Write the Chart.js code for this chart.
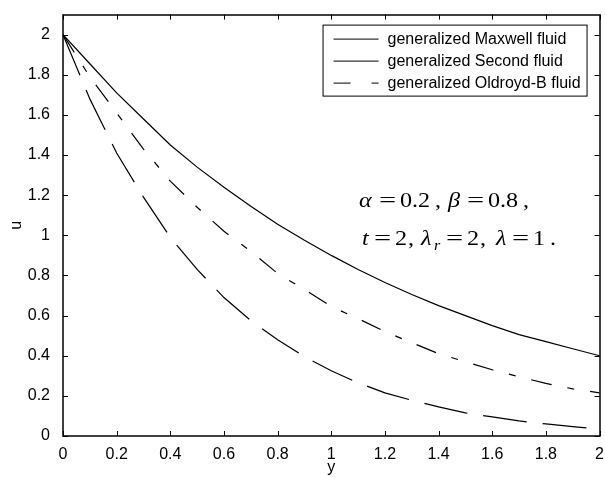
<!DOCTYPE html>
<html>
<head>
<meta charset="utf-8">
<script src="https://cdn.jsdelivr.net/npm/chart.js@4/dist/chart.umd.min.js"></script>
<style>
	html, body { margin: 0; padding: 0; background: #fff; }
	#wrap { width: 605px; height: 477px; }
</style>
</head>
<body>
<div id="wrap"><canvas id="chart" width="605" height="477"></canvas></div>
<script>
'use strict';

// y positions along the channel
const yValues = [0, 0.1, 0.2, 0.3, 0.4, 0.5, 0.6, 0.7, 0.8, 0.9, 1.0, 1.1, 1.2, 1.3, 1.4, 1.5, 1.6, 1.7, 1.8, 1.9, 2.0];

// velocity u for each fluid
const maxwellU = [2.0, 1.855, 1.71, 1.58, 1.45, 1.34, 1.24, 1.145, 1.055, 0.975, 0.90, 0.83, 0.765, 0.705, 0.65, 0.60, 0.55, 0.505, 0.47, 0.435, 0.40];
const secondU = [2.0, 1.79, 1.61, 1.43, 1.27, 1.14, 1.02, 0.92, 0.81, 0.73, 0.645, 0.585, 0.52, 0.465, 0.41, 0.37, 0.33, 0.295, 0.262, 0.235, 0.215];
const oldroydU = [2.0, 1.68, 1.41, 1.19, 0.99, 0.83, 0.69, 0.575, 0.48, 0.395, 0.325, 0.265, 0.215, 0.178, 0.145, 0.115, 0.095, 0.075, 0.06, 0.047, 0.035];

const legendLabels = ['generalized Maxwell fluid', 'generalized Second fluid', 'generalized Oldroyd-B fluid'];
const axisLabelX = 'y';
const axisLabelY = 'u';

const sansFont = "'Liberation Sans', Arial, Helvetica, sans-serif";
const serifFont = "'Liberation Serif', 'Times New Roman', serif";

function toPoints(values) {
	return yValues.map((x, i) => ({ x: x, y: values[i] }));
}

function tickText(v) {
	return String(Math.round(v * 10) / 10);
}

// box, inward ticks on all four sides
const frameTicks = {
	id: 'frameTicks',
	afterDraw(chart) {
		const ctx = chart.ctx;
		const a = chart.chartArea;
		const xs = chart.scales.x;
		const ys = chart.scales.y;
		const len = 5;
		ctx.save();
		ctx.strokeStyle = '#000';
		ctx.lineWidth = 1;
		ctx.beginPath();
		xs.ticks.forEach(function (t) {
			const px = Math.round(xs.getPixelForValue(t.value)) + 0.5;
			ctx.moveTo(px, a.bottom); ctx.lineTo(px, a.bottom - len);
			ctx.moveTo(px, a.top); ctx.lineTo(px, a.top + len);
		});
		ys.ticks.forEach(function (t) {
			const py = Math.round(ys.getPixelForValue(t.value)) + 0.5;
			ctx.moveTo(a.left, py); ctx.lineTo(a.left + len, py);
			ctx.moveTo(a.right, py); ctx.lineTo(a.right - len, py);
		});
		ctx.stroke();
		ctx.lineWidth = 1.5;
		ctx.strokeRect(Math.round(a.left), Math.round(a.top), Math.round(a.right - a.left), Math.round(a.bottom - a.top));
		ctx.restore();
	}
};

// legend box in the top right corner
const boxLegend = {
	id: 'boxLegend',
	afterDraw(chart) {
		const ctx = chart.ctx;
		const a = chart.chartArea;
		const left = a.right - 277, top = a.top + 10, w = 264, h = 71;
		const dashes = [[], [], [17, 21, 7, 100]];
		ctx.save();
		ctx.fillStyle = '#fff';
		ctx.fillRect(left, top, w, h);
		ctx.strokeStyle = '#000';
		ctx.lineWidth = 1;
		ctx.strokeRect(left + 0.5, top + 0.5, w, h);
		ctx.font = '16px ' + sansFont;
		ctx.fillStyle = '#000';
		ctx.textBaseline = 'middle';
		legendLabels.forEach(function (label, i) {
			const cy = top + 14 + i * 22;
			ctx.setLineDash(dashes[i]);
			ctx.beginPath();
			ctx.moveTo(left + 11, cy + 0.5);
			ctx.lineTo(left + 56, cy + 0.5);
			ctx.stroke();
			ctx.setLineDash([]);
			ctx.fillText(label, left + 65, cy + 1);
		});
		ctx.restore();
	}
};

// parameter note
const paramNote = {
	id: 'paramNote',
	afterDraw(chart) {
		const ctx = chart.ctx;
		const runs = [
			['\u03b1', 359, 207, 'i'], ['=', 379, 207, 'eq'], ['0.2', 400, 207, ''], [',', 435, 207, ''],
			['\u03b2', 448, 207, 'i'], ['=', 467, 207, 'eq'], ['0.8', 488, 207, ''], [',', 523, 207, ''],
			['t', 362, 245, 'i'], ['=', 374, 245, 'eq'], ['2', 395, 245, ''], [',', 408, 245, ''],
			['\u03bb', 421, 245, 'i'], ['r', 434, 250, 'sub'], ['=', 446, 245, 'eq'], ['2', 467, 245, ''], [',', 480, 245, ''],
			['\u03bb', 496, 245, 'i'], ['=', 512, 245, 'eq'], ['1', 533, 245, ''], ['.', 550, 245, '']
		];
		ctx.save();
		ctx.fillStyle = '#000';
		ctx.textBaseline = 'alphabetic';
		runs.forEach(function (r) {
			let sx = 1.15;
			if (r[3] === 'i') ctx.font = 'italic 21px ' + serifFont;
			else if (r[3] === 'sub') ctx.font = 'italic 14px ' + serifFont;
			else ctx.font = '21px ' + serifFont;
			if (r[3] === 'eq') sx = 1.45;
			ctx.save();
			ctx.translate(r[1], r[2]);
			ctx.scale(sx, 1);
			ctx.fillText(r[0], 0, 0);
			ctx.restore();
		});
		ctx.restore();
	}
};

const lineStyle = {
	borderColor: '#000',
	backgroundColor: '#000',
	borderWidth: 1.2,
	pointRadius: 0,
	tension: 0,
	fill: false
};

new Chart(document.getElementById('chart'), {
	type: 'line',
	data: {
		datasets: [
			Object.assign({ label: legendLabels[0], data: toPoints(maxwellU) }, lineStyle),
			Object.assign({ label: legendLabels[1], data: toPoints(secondU), borderDash: [21, 16, 7, 16] }, lineStyle),
			Object.assign({ label: legendLabels[2], data: toPoints(oldroydU), borderDash: [44, 16] }, lineStyle)
		]
	},
	options: {
		responsive: false,
		animation: false,
		layout: { padding: { left: 0, right: 4, top: 13, bottom: 0 } },
		plugins: {
			legend: { display: false },
			tooltip: { enabled: false }
		},
		scales: {
			x: {
				type: 'linear',
				min: 0,
				max: 2,
				grid: { display: false },
				border: { display: false },
				ticks: {
					stepSize: 0.2,
					color: '#000',
					padding: 1,
					maxRotation: 0,
					autoSkip: false,
					font: { family: sansFont, size: 16 },
					callback: tickText
				},
				title: {
					display: true,
					text: axisLabelX,
					color: '#000',
					padding: { top: 0, bottom: 0 },
					font: { family: sansFont, size: 16 }
				},
				afterFit: function (scale) { scale.height = 41; }
			},
			y: {
				min: 0,
				max: 2.1,
				grid: { display: false },
				border: { display: false },
				ticks: {
					stepSize: 0.2,
					includeBounds: false,
					color: '#000',
					padding: 5,
					autoSkip: false,
					font: { family: sansFont, size: 16 },
					callback: tickText
				},
				title: {
					display: true,
					text: axisLabelY,
					color: '#000',
					padding: { top: 7, bottom: 0 },
					font: { family: sansFont, size: 16 }
				},
				afterFit: function (scale) { scale.width = 63; }
			}
		}
	},
	plugins: [frameTicks, boxLegend, paramNote]
});
</script>
</body>
</html>
